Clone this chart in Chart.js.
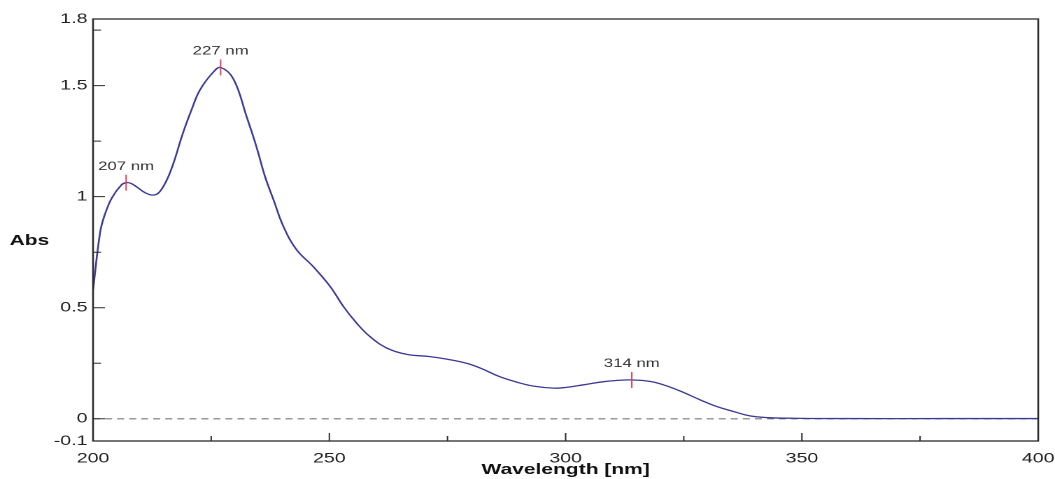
<!DOCTYPE html>
<html>
<head>
<meta charset="utf-8">
<script src="https://cdn.jsdelivr.net/npm/chart.js@4.4.1/dist/chart.umd.min.js"></script>
<style>
  html, body { margin: 0; padding: 0; background: #fff; overflow: hidden; }
  /* the reference is stretched sideways, so the whole canvas is too */
  #wrap { width: 754px; height: 479px; transform: scaleX(1.3992); transform-origin: 0 0; }
</style>
</head>
<body>
<div id="wrap"><canvas id="spectrum" width="754" height="479"></canvas></div>
<script>
// Spectrum (nm, Abs)
const wavelengths = [200, 201.5, 202.5, 204, 206, 207, 208, 209.5, 211, 212.7, 214, 215.6, 217, 219, 221, 222.6, 225.4, 227,
  229.7, 232.5, 234.5, 236.4, 238.2, 240.3, 243.1, 246.6, 250.2, 253, 255.8, 258.6, 262.2, 266.4, 271.3, 275,
  279, 282, 286, 290, 293.2, 297.4, 300, 303.8, 308, 311, 314, 318, 321.4, 325, 328.5, 332, 335.5, 339, 343,
  350, 360, 380, 400];
const absorbance = [0.58, 0.84, 0.92, 0.995, 1.053, 1.063, 1.06, 1.04, 1.018, 1.007, 1.02, 1.075, 1.15, 1.285, 1.40, 1.48, 1.56, 1.582,
  1.53, 1.36, 1.23, 1.09, 0.985, 0.865, 0.76, 0.685, 0.595, 0.505, 0.43, 0.37, 0.318, 0.29, 0.28, 0.268,
  0.25, 0.228, 0.19, 0.163, 0.147, 0.138, 0.141, 0.153, 0.167, 0.173, 0.175, 0.168, 0.148, 0.118, 0.085, 0.055, 0.033, 0.013, 0.005,
  0.002, 0.001, 0.001, 0.001];

const peaks = [207, 227, 314];
const peakLabels = ["207 nm", "227 nm", "314 nm"];

const xTicks = [200, 225, 250, 275, 300, 325, 350, 375, 400];
const xLabels = [200, 250, 300, 350, 400];
const yTicks = [-0.1, 0, 0.25, 0.5, 0.75, 1, 1.25, 1.5, 1.75, 1.8];
const yLabels = [-0.1, 0, 0.5, 1, 1.5, 1.8];

const X_MIN = 200, X_MAX = 400, Y_MIN = -0.1, Y_MAX = 1.8;
const FONT = "'Liberation Sans', Arial, sans-serif";

// frame, inward ticks, peak marks and the horizontal "Abs" title
const decorations = {
  id: "decorations",
  afterDraw(chart) {
    const { ctx, chartArea: a, scales: { x, y } } = chart;
    ctx.save();

    ctx.strokeStyle = "#2b2b2b";
    ctx.lineWidth = 1.3;
    ctx.strokeRect(a.left, a.top, a.right - a.left, a.bottom - a.top);

    ctx.lineWidth = 1;
    ctx.beginPath();
    xTicks.forEach((v) => {
      if (v === X_MIN || v === X_MAX) return;
      const px = x.getPixelForValue(v);
      const len = xLabels.includes(v) ? 8 : 5;
      ctx.moveTo(px, a.bottom);
      ctx.lineTo(px, a.bottom - len);
    });
    yTicks.forEach((v) => {
      if (v === Y_MIN || v === Y_MAX) return;
      const py = y.getPixelForValue(v);
      const len = yLabels.includes(v) ? 8.5 : 5.7;
      ctx.moveTo(a.left, py);
      ctx.lineTo(a.left + len, py);
    });
    ctx.stroke();

    ctx.font = "12px " + FONT;
    ctx.textAlign = "center";
    ctx.textBaseline = "middle";
    peaks.forEach((p, i) => {
      const idx = wavelengths.indexOf(p);
      const px = x.getPixelForValue(p);
      const py = y.getPixelForValue(absorbance[idx]);
      ctx.strokeStyle = "#d9405a";
      ctx.lineWidth = 1;
      ctx.beginPath();
      ctx.moveTo(px, py - 8);
      ctx.lineTo(px, py + 8);
      ctx.stroke();
      ctx.fillStyle = "#333";
      ctx.fillText(peakLabels[i], px, py - 16);
    });

    ctx.font = "bold 15px " + FONT;
    ctx.fillStyle = "#111";
    ctx.fillText("Abs", 21, 241);
    ctx.restore();
  },
};

new Chart(document.getElementById("spectrum"), {
  type: "line",
  data: {
    datasets: [
      {
        data: wavelengths.map((w, i) => ({ x: w, y: absorbance[i] })),
        borderColor: "#3b3b96",
        borderWidth: 1.3,
        pointRadius: 0,
        tension: 0.4,
        fill: false,
      },
      {
        // zero baseline
        data: [{ x: X_MIN, y: 0 }, { x: X_MAX, y: 0 }],
        borderColor: "#7a7a7a",
        borderWidth: 1.1,
        borderDash: [5, 3.6],
        pointRadius: 0,
        fill: false,
      },
    ],
  },
  options: {
    responsive: false,
    devicePixelRatio: 2,
    animation: false,
    layout: { padding: { top: 19, right: 12, bottom: 0, left: 0 } },
    plugins: { legend: { display: false }, tooltip: { enabled: false } },
    scales: {
      x: {
        type: "linear",
        min: X_MIN,
        max: X_MAX,
        afterBuildTicks: (s) => { s.ticks = xTicks.map((v) => ({ value: v })); },
        afterFit: (s) => { s.height = 38; s.paddingLeft = 0; s.paddingRight = 0; },
        grid: { display: false, drawTicks: false },
        border: { display: false },
        ticks: {
          autoSkip: false,
          maxRotation: 0,
          padding: 9,
          color: "#222",
          font: { family: FONT, size: 14 },
          callback: (v) => (xLabels.includes(v) ? String(v) : ""),
        },
        title: {
          display: true,
          text: "Wavelength [nm]",
          color: "#111",
          font: { family: FONT, size: 15, weight: "bold", lineHeight: 1.2 },
          padding: { top: 0, bottom: 0 },
        },
      },
      y: {
        min: Y_MIN,
        max: Y_MAX,
        afterBuildTicks: (s) => { s.ticks = yTicks.map((v) => ({ value: v })); },
        afterFit: (s) => { s.width = 66.5; },
        grid: { display: false, drawTicks: false },
        border: { display: false },
        ticks: {
          autoSkip: false,
          padding: 4,
          color: "#222",
          font: { family: FONT, size: 14 },
          callback: (v) => (yLabels.includes(v) ? String(v) : ""),
        },
      },
    },
  },
  plugins: [decorations],
});
</script>
</body>
</html>
